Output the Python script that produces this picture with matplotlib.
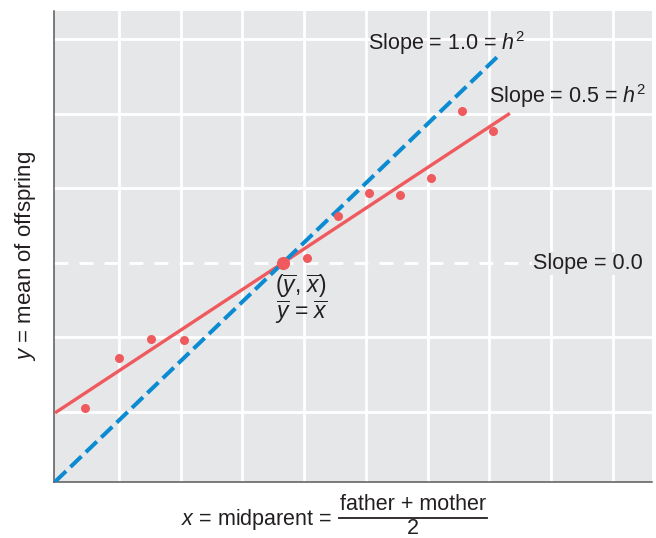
import matplotlib
matplotlib.use("Agg")
import matplotlib.pyplot as plt
from matplotlib.lines import Line2D

plt.rcParams['font.family'] = ['Liberation Sans', 'DejaVu Sans']
plt.rcParams['mathtext.fontset'] = 'custom'
plt.rcParams['mathtext.rm'] = 'Liberation Sans'
plt.rcParams['mathtext.it'] = 'Liberation Sans:italic'
plt.rcParams['mathtext.bf'] = 'Liberation Sans:bold'

# data (midparent x, offspring mean y)
x_pts = [0.45, 1.0, 1.52, 2.05, 4.05, 4.55, 5.05, 5.55, 6.05, 6.55, 7.05]
y_pts = [1.06, 1.73, 1.98, 1.96, 3.07, 3.62, 3.94, 3.91, 4.14, 5.04, 4.77]
mean_x, mean_y = 3.656, 3.0
blue_x = [-0.036, 7.12]
blue_slope = 0.795
red_x = [-0.036, 7.33]
red_slope = 0.545

TXT = '#231f20'
BG = '#e6e7e9'
RED = '#ef5a5e'
BLUE = '#0b8bd1'

fig = plt.figure(figsize=(6.56, 5.38), dpi=100)
ax = fig.add_axes([54/656, 56/538, 598/656, 471/538])
ax.set_facecolor(BG)
ax.set_xlim(-0.0526, 9.632)
ax.set_ylim(0.0617, 6.374)

for gx in range(1, 10):
    ax.axvline(gx, color='white', lw=2.0, zorder=1)
for gy in [1, 2, 4, 5, 6]:
    ax.axhline(gy, color='white', lw=2.0, zorder=1)
ax.axhline(mean_y, color='white', lw=2.0, ls=(0, (5, 4)), zorder=1)

by = [mean_y + blue_slope * (xx - mean_x) for xx in blue_x]
ry = [mean_y + red_slope * (xx - mean_x) for xx in red_x]
ax.plot(red_x, ry, color=RED, lw=2.4, solid_capstyle='butt', zorder=3)
ax.plot(blue_x, by, color=BLUE, lw=2.9, ls=(0, (3.8, 1.5)), zorder=3)
ax.plot(x_pts, y_pts, 'o', color=RED, ms=6.5, mec='none', zorder=4)
ax.plot([mean_x], [mean_y], 'o', color=RED, ms=9.5, mec='none', zorder=5)

for s in ['top', 'right']:
    ax.spines[s].set_visible(False)
for s in ['left', 'bottom']:
    ax.spines[s].set_color('#58595b')
    ax.spines[s].set_linewidth(1.1)
ax.set_xticks([])
ax.set_yticks([])

fs = 15.5

def ftext(px, py, s, size=fs, **kw):
    fig.text(px/656, (538-py)/538, s, fontsize=size, color=TXT, **kw)

ftext(368, 50, r'Slope = 1.0 = $h^2$', va='baseline', ha='left', zorder=6)
ftext(489, 103.5, r'Slope = 0.5 = $h^2$', va='baseline', ha='left', zorder=6)
fig.text(533/656, (538-269.3)/538, 'Slope = 0.0', fontsize=fs, color=TXT,
         va='baseline', ha='left', zorder=6,
         bbox=dict(boxstyle='square,pad=0.05', fc=BG, ec='none'))
ftext(275, 293.5, r'$(\overline{y}$, $\overline{x})$', size=16.5, va='baseline', ha='left')
ftext(275, 319.5, r'$\overline{y}$ = $\overline{x}$', size=16.5, va='baseline', ha='left')

# axis labels
fig.text(26/656, (538-256)/538, r'$y$ = mean of offspring', fontsize=16, color=TXT,
         rotation=90, ha='center', va='center')
ftext(181, 525, r'$x$ = midparent =', va='baseline', ha='left')
ftext(413, 510, 'father + mother', va='baseline', ha='center')
ftext(413, 534, '2', va='baseline', ha='center')
fig.add_artist(Line2D([339/656, 487/656], [(538-517.5)/538]*2, color=TXT, lw=1.3,
                      transform=fig.transFigure))

fig.savefig('out.png', dpi=100)
